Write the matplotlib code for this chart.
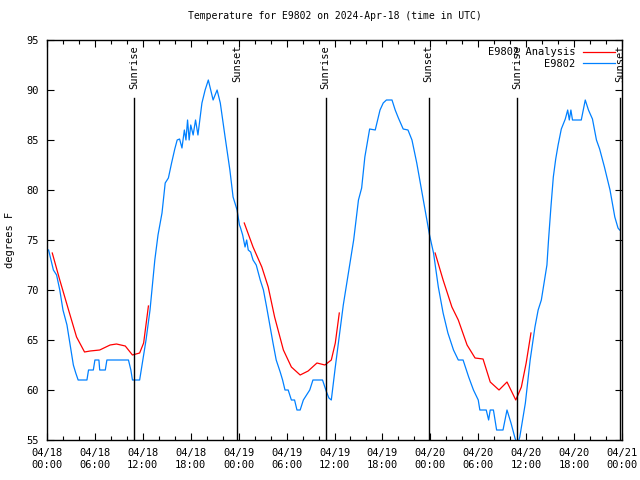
import numpy as np
import matplotlib.pyplot as plt

# hours since 2024-04-18 00:00 UTC
obs_hours = [0.2, 0.5, 0.8, 1.2, 1.6, 2.0, 2.5, 2.9, 3.3, 3.6, 3.9, 4.5, 5.0, 5.2, 5.8, 6.0, 6.5, 6.6, 7.3, 7.5,
             8.5, 9.5, 10.2, 10.5, 10.7, 11.6, 12.0, 12.4, 12.9, 13.5, 13.9, 14.4, 14.8, 15.2, 15.6, 16.0, 16.3,
             16.6, 16.9, 17.2, 17.4, 17.6, 17.8, 18.0, 18.3, 18.6, 18.9, 19.4, 19.8, 20.2, 20.5, 20.8, 21.3, 21.7,
             22.3, 22.9, 23.3, 23.8, 24.1,
             24.2, 24.5, 24.8, 25.0, 25.2, 25.5, 25.8, 26.2, 26.7, 27.1, 27.5, 27.9, 28.3, 28.7, 29.2, 29.5, 29.8,
             30.2, 30.6, 31.0, 31.3, 31.7, 32.1, 32.5, 32.9, 33.3, 34.5, 34.8, 35.0, 35.3, 35.6, 36.1, 36.7, 37.1,
             37.5, 37.9, 38.4, 39.0, 39.4, 39.8, 40.4, 41.1, 41.4, 41.7, 42.1, 42.5, 43.2, 43.6, 44.0, 44.6, 45.2,
             45.7, 46.3, 46.9, 47.5, 47.9,
             48.4, 49.0, 49.6, 50.2, 50.9, 51.5, 52.1, 52.8, 53.4, 54.0, 54.2, 55.0, 55.3, 55.5, 55.9, 56.3, 57.1,
             57.6, 58.1, 58.6, 58.9, 59.2, 59.9, 60.5, 61.1, 61.5, 61.9, 62.3, 62.6, 62.8, 63.1, 63.4, 63.7, 64.0,
             64.4, 64.9, 65.2, 65.4, 65.6, 65.8, 66.9, 67.4, 67.8, 68.3, 68.8, 69.2, 69.8, 70.5, 71.1, 71.5, 71.7]
obs_temp = [74, 73, 72, 71.5, 70, 68, 66.5, 64.5, 62.5, 61.7, 61, 61, 61, 62, 62, 63, 63, 62, 62, 63,
            63, 63, 63, 62, 61, 61, 63, 65, 68, 73, 75.5, 77.7, 80.7, 81.2, 82.7, 84.1, 85,
            85.1, 84.2, 86, 85, 87, 85, 86.5, 85.5, 87, 85.5, 88.7, 90, 91, 90, 89, 90, 88.7,
            85.3, 82, 79.3, 78, 76.5,
            76.3, 75.5, 74.3, 75, 74, 73.8, 73, 72.5, 71, 70, 68.3, 66.5, 64.7, 63, 61.8, 61, 60,
            60, 59, 59, 58, 58, 59, 59.5, 60, 61, 61, 60.3, 59.8, 59.2, 59, 62.3, 66, 68.5,
            70.5, 72.5, 75, 79, 80.2, 83.3, 86.1, 86, 87, 88, 88.7, 89, 89, 88, 87.2, 86.1, 86,
            85, 82.7, 80, 77.3, 75.5,
            73.7, 70.3, 67.7, 65.7, 64, 63, 63, 61.3, 60, 59, 58, 58, 57, 58, 58, 56, 56,
            58, 56.7, 55.2, 54.5, 55.3, 58.7, 63, 66.3, 68, 69, 71, 72.5, 75, 78.3, 81.3, 83.1, 84.5,
            86.1, 87.1, 88, 87, 88, 87, 87, 89, 88, 87.1, 85, 84.1, 82.3, 80, 77.3, 76.2, 76]

# analysis (gaps between runs marked with nan)
ana_hours = [0.66, 1.6, 2.7, 3.7, 4.7, 5.4, 6.6, 7.9, 8.7, 9.8, 10.7, 11.6, 12.1, 12.7, 18.0,
             24.7, 25.8, 26.9, 27.7, 28.5, 29.6, 30.6, 31.7, 32.7, 33.8, 34.8, 35.6, 36.1, 36.6, 42.0,
             48.6, 49.6, 50.7, 51.5, 52.6, 53.6, 54.6, 55.5, 56.6, 57.6, 58.7, 59.4, 60.0, 60.6]
ana_temp = [73.7, 71, 68, 65.3, 63.8, 63.9, 64, 64.5, 64.6, 64.4, 63.5, 63.7, 64.7, 68.4, np.nan,
            76.7, 74.3, 72.3, 70.3, 67.3, 64, 62.3, 61.5, 61.9, 62.7, 62.5, 63, 64.7, 67.7, np.nan,
            73.7, 71, 68.3, 67, 64.5, 63.2, 63.1, 60.8, 60, 60.8, 59, 60.3, 62.7, 65.7]

sun_hours = [10.9, 23.8, 34.9, 47.8, 58.85, 71.8]
sun_labels = ["Sunrise", "Sunset", "Sunrise", "Sunset", "Sunrise", "Sunset"]

tick_hours = list(range(0, 73, 6))
tick_labels = ["04/18\n00:00", "04/18\n06:00", "04/18\n12:00", "04/18\n18:00",
               "04/19\n00:00", "04/19\n06:00", "04/19\n12:00", "04/19\n18:00",
               "04/20\n00:00", "04/20\n06:00", "04/20\n12:00", "04/20\n18:00", "04/21\n00:00"]

plt.rcParams['font.family'] = 'DejaVu Sans Mono'
plt.rcParams['font.size'] = 7.5

fig, ax = plt.subplots(figsize=(6.4, 4.8), dpi=100)
fig.subplots_adjust(left=47/640, right=622/640, top=1-40/480, bottom=1-440/480)

ax.plot(ana_hours, ana_temp, color='#ff0000', lw=0.9, label='E9802 Analysis')
ax.plot(obs_hours, obs_temp, color='#0080ff', lw=0.9, label='E9802')

for t, lab in zip(sun_hours, sun_labels):
    ax.axvline(t, ymin=0, ymax=(440-98)/400, color='black', lw=1)
    ax.text(t, 0.988, lab, rotation=90, ha='center', va='top',
            transform=ax.get_xaxis_transform())

ax.set_xlim(0, 72)
ax.set_ylim(55, 95)
ax.set_xticks(tick_hours)
ax.set_xticklabels(tick_labels)
ax.set_xticks(range(0, 73, 2), minor=True)
ax.set_yticks(range(55, 96, 5))
ax.tick_params(direction='in', top=True, right=True, length=5, width=0.8, pad=6)
ax.tick_params(which='minor', direction='in', top=True, length=3, width=0.8)
for s in ax.spines.values():
    s.set_linewidth(1)

ax.set_title("Temperature for E9802 on 2024-Apr-18 (time in UTC)", fontsize=7, pad=15)
ax.set_ylabel("degrees F", labelpad=8)
ax.legend(loc='upper right', frameon=False, markerfirst=False, handlelength=3.0,
          borderaxespad=0.3, labelspacing=0.15)

fig.savefig("out.png", dpi=100)
